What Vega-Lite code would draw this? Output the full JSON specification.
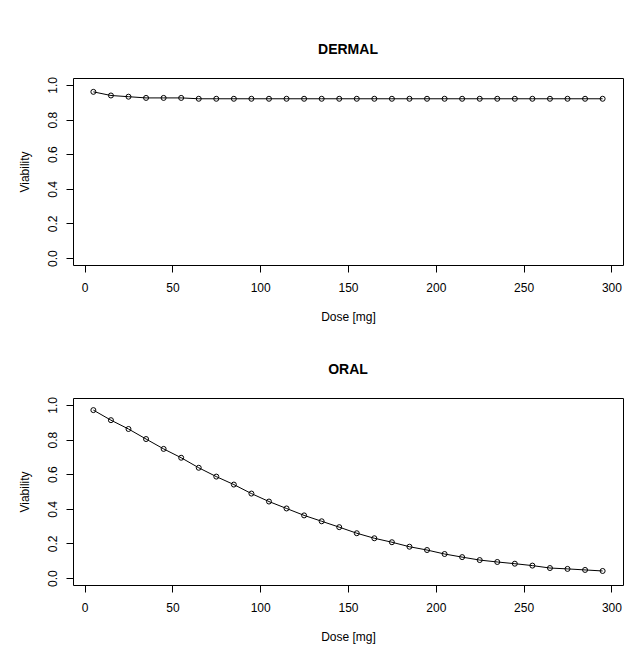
{
  "$schema": "https://vega.github.io/schema/vega-lite/v6.json",
  "background": "white",
  "padding": {"left": 17, "top": 42, "right": 5, "bottom": 5},
  "datasets": {
    "dermal": [
      {"dose": 5, "viability": 0.960}, {"dose": 15, "viability": 0.939}, {"dose": 25, "viability": 0.932},
      {"dose": 35, "viability": 0.925}, {"dose": 45, "viability": 0.925}, {"dose": 55, "viability": 0.925},
      {"dose": 65, "viability": 0.920}, {"dose": 75, "viability": 0.920}, {"dose": 85, "viability": 0.920},
      {"dose": 95, "viability": 0.920}, {"dose": 105, "viability": 0.920}, {"dose": 115, "viability": 0.920},
      {"dose": 125, "viability": 0.920}, {"dose": 135, "viability": 0.920}, {"dose": 145, "viability": 0.920},
      {"dose": 155, "viability": 0.920}, {"dose": 165, "viability": 0.920}, {"dose": 175, "viability": 0.920},
      {"dose": 185, "viability": 0.920}, {"dose": 195, "viability": 0.920}, {"dose": 205, "viability": 0.920},
      {"dose": 215, "viability": 0.920}, {"dose": 225, "viability": 0.920}, {"dose": 235, "viability": 0.920},
      {"dose": 245, "viability": 0.920}, {"dose": 255, "viability": 0.920}, {"dose": 265, "viability": 0.920},
      {"dose": 275, "viability": 0.920}, {"dose": 285, "viability": 0.920}, {"dose": 295, "viability": 0.920}
    ],
    "oral": [
      {"dose": 5, "viability": 0.970}, {"dose": 15, "viability": 0.912}, {"dose": 25, "viability": 0.861},
      {"dose": 35, "viability": 0.803}, {"dose": 45, "viability": 0.746}, {"dose": 55, "viability": 0.695},
      {"dose": 65, "viability": 0.637}, {"dose": 75, "viability": 0.586}, {"dose": 85, "viability": 0.540},
      {"dose": 95, "viability": 0.488}, {"dose": 105, "viability": 0.442}, {"dose": 115, "viability": 0.402},
      {"dose": 125, "viability": 0.362}, {"dose": 135, "viability": 0.328}, {"dose": 145, "viability": 0.294},
      {"dose": 155, "viability": 0.259}, {"dose": 165, "viability": 0.230}, {"dose": 175, "viability": 0.207},
      {"dose": 185, "viability": 0.181}, {"dose": 195, "viability": 0.162}, {"dose": 205, "viability": 0.139},
      {"dose": 215, "viability": 0.121}, {"dose": 225, "viability": 0.104}, {"dose": 235, "viability": 0.093},
      {"dose": 245, "viability": 0.083}, {"dose": 255, "viability": 0.072}, {"dose": 265, "viability": 0.058},
      {"dose": 275, "viability": 0.053}, {"dose": 285, "viability": 0.047}, {"dose": 295, "viability": 0.041}
    ]
  },
  "vconcat": [
    {
      "title": {"text": "DERMAL"},
      "width": 550,
      "height": 187,
      "data": {"name": "dermal"},
      "encoding": {
        "x": {"field": "dose", "type": "quantitative", "title": "Dose [mg]",
              "axis": {"values": [0, 50, 100, 150, 200, 250, 300], "format": "d"},
              "scale": {"domain": [-6.6, 306.6], "nice": false, "zero": false}},
        "y": {"field": "viability", "type": "quantitative", "title": "Viability",
              "axis": {"values": [0, 0.2, 0.4, 0.6, 0.8, 1.0], "format": ".1f"},
              "scale": {"domain": [-0.04, 1.04], "nice": false, "zero": false}}
      },
      "layer": [
        {"mark": {"type": "line", "color": "black", "strokeWidth": 1}},
        {"mark": {"type": "point", "shape": "circle", "filled": false, "color": "black", "strokeWidth": 1, "size": 25, "opacity": 1}}
      ]
    },
    {
      "title": {"text": "ORAL"},
      "width": 550,
      "height": 187,
      "data": {"name": "oral"},
      "encoding": {
        "x": {"field": "dose", "type": "quantitative", "title": "Dose [mg]",
              "axis": {"values": [0, 50, 100, 150, 200, 250, 300], "format": "d"},
              "scale": {"domain": [-6.6, 306.6], "nice": false, "zero": false}},
        "y": {"field": "viability", "type": "quantitative", "title": "Viability",
              "axis": {"values": [0, 0.2, 0.4, 0.6, 0.8, 1.0], "format": ".1f"},
              "scale": {"domain": [-0.04, 1.04], "nice": false, "zero": false}}
      },
      "layer": [
        {"mark": {"type": "line", "color": "black", "strokeWidth": 1}},
        {"mark": {"type": "point", "shape": "circle", "filled": false, "color": "black", "strokeWidth": 1, "size": 25, "opacity": 1}}
      ]
    }
  ],
  "spacing": 133,
  "bounds": "flush",
  "config": {
    "font": "Liberation Sans",
    "view": {"stroke": "black", "strokeWidth": 1, "fill": "white"},
    "title": {"fontSize": 14, "fontWeight": "bold", "color": "black", "font": "Liberation Sans", "anchor": "middle", "baseline": "alphabetic", "offset": 20},
    "axis": {
      "grid": false, "domain": false, "ticks": true, "tickColor": "black", "tickSize": 7, "tickWidth": 1,
      "labelFont": "Liberation Sans", "labelFontSize": 12, "labelColor": "black", "labelPadding": 10,
      "titleFont": "Liberation Sans", "titleFontSize": 12, "titleFontWeight": "normal", "titleColor": "black",
      "labelFlush": false, "labelOverlap": false
    },
    "axisX": {"labelBaseline": "top",
              "titleBaseline": "alphabetic", "titleY": 55, "titleX": 275, "titleAlign": "center"},
    "axisY": {"labelAngle": 270, "labelAlign": "center", "labelBaseline": "alphabetic",
              "titleAngle": 270, "titleBaseline": "alphabetic", "titleX": -45, "titleY": 93.5, "titleAlign": "center"}
  }
}
